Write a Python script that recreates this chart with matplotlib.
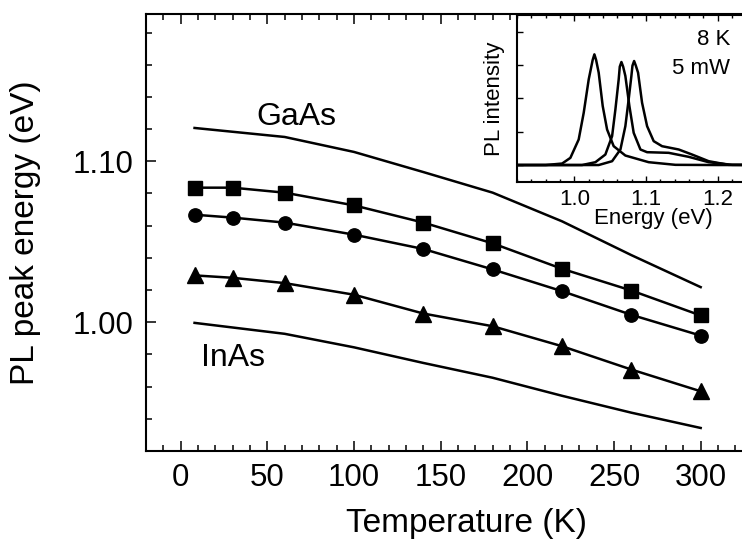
import matplotlib
matplotlib.use("Agg")
import matplotlib.pyplot as plt
from matplotlib.ticker import MultipleLocator, FormatStrFormatter, FuncFormatter

plt.rcParams['font.family'] = ['Liberation Sans', 'DejaVu Sans']

# PL peak energy versus temperature for the three dot samples
temperature = [8, 30, 60, 100, 140, 180, 220, 260, 300]
peak_square = [1.0836, 1.0836, 1.0805, 1.0726, 1.0619, 1.0490, 1.0332, 1.0197, 1.0042]
peak_circle = [1.0668, 1.0650, 1.0619, 1.0544, 1.0455, 1.0328, 1.0193, 1.0046, 0.9917]
peak_triangle = [1.0291, 1.0276, 1.0243, 1.0171, 1.0054, 0.9975, 0.9851, 0.9706, 0.9571]

# Bulk band gaps (reference curves)
temp_bulk = [8, 60, 100, 140, 180, 220, 260, 300]
gap_gaas = [1.1207, 1.1151, 1.1058, 1.0933, 1.0805, 1.0627, 1.0417, 1.0218]
gap_inas = [0.9996, 0.9928, 0.9844, 0.9747, 0.9655, 0.9543, 0.9438, 0.9343]

# 8 K spectra (inset)
spec_tri_e = [0.92, 0.96, 0.9829, 0.9944, 1.006, 1.013, 1.020, 1.0255, 1.0279, 1.0303,
              1.0339, 1.0395, 1.0456, 1.0548, 1.0711, 1.1036, 1.1409, 1.20, 1.30]
spec_tri_i = [0.0, 0.0, 0.045, 0.215, 0.766, 1.566, 2.57, 3.15, 3.32, 3.15,
              2.77, 1.77, 1.066, 0.565, 0.285, 0.085, 0.006, 0.0, 0.0]
spec_cir_e = [0.92, 1.0107, 1.0293, 1.0432, 1.0526, 1.0572, 1.0618, 1.0633, 1.0656, 1.0680,
              1.0711, 1.0767, 1.0827, 1.0921, 1.1014, 1.1315, 1.1594, 1.1873, 1.22, 1.30]
spec_cir_i = [0.0, 0.0, 0.085, 0.315, 0.866, 1.667, 2.57, 2.95, 3.09, 2.95,
              2.67, 1.77, 0.966, 0.466, 0.385, 0.366, 0.246, 0.085, 0.006, 0.0]
spec_sq_e = [0.92, 1.0339, 1.0526, 1.0642, 1.0711, 1.0757, 1.0795, 1.0810, 1.0833, 1.0857,
             1.0888, 1.0944, 1.1014, 1.1106, 1.1223, 1.1455, 1.1641, 1.1873, 1.2152, 1.30]
spec_sq_i = [0.0, 0.0, 0.115, 0.466, 1.166, 1.967, 2.67, 2.98, 3.12, 2.98,
             2.77, 1.867, 1.166, 0.716, 0.565, 0.466, 0.315, 0.115, 0.006, 0.0]

fig = plt.figure(figsize=(7.42, 5.45), dpi=100)
ax = fig.add_axes([0.1968, 0.1725, 0.8643, 0.8018])

lw = 1.8
ax.plot(temp_bulk, gap_gaas, color='black', lw=lw)
ax.plot(temp_bulk, gap_inas, color='black', lw=lw)
ax.plot(temperature, peak_square, '-s', color='black', lw=lw, ms=9.6)
ax.plot(temperature, peak_circle, '-o', color='black', lw=lw, ms=9.6)
ax.plot(temperature, peak_triangle, '-^', color='black', lw=lw, ms=11)

ax.text(66.6, 1.1276, 'GaAs', fontsize=23, ha='center', va='center')
ax.text(30.3, 0.978, 'InAs', fontsize=23, ha='center', va='center')

ax.set_xlim(-20, 350)
ax.set_ylim(0.92, 1.1915)
ax.xaxis.set_major_locator(MultipleLocator(50))
ax.xaxis.set_minor_locator(MultipleLocator(10))
ax.xaxis.set_major_formatter(FuncFormatter(lambda v, p: f'{v:.0f}' if v <= 300 else ''))
ax.yaxis.set_major_locator(MultipleLocator(0.1))
ax.yaxis.set_minor_locator(MultipleLocator(0.02))
ax.yaxis.set_major_formatter(FormatStrFormatter('%.2f'))
ax.tick_params(which='both', direction='in', top=True, right=True, width=1.1)
ax.tick_params(which='major', length=7.5, labelsize=22.5, pad=9)
ax.tick_params(which='minor', length=4.3)
for s in ax.spines.values():
    s.set_linewidth(1.5)

ax.set_xlabel('Temperature (K)', fontsize=24, va='center')
ax.xaxis.set_label_coords(0.5, -0.1648)
ax.set_ylabel('PL peak energy (eV)', fontsize=24, va='center')
ax.yaxis.set_label_coords(-0.188, 0.5)

# inset: PL spectra at 8 K
axin = fig.add_axes([0.6968, 0.6666, 0.3672, 0.3059])
axin.set_facecolor('white')
axin.plot(spec_tri_e, spec_tri_i, color='black', lw=1.8, solid_joinstyle='round')
axin.plot(spec_cir_e, spec_cir_i, color='black', lw=1.8, solid_joinstyle='round')
axin.plot(spec_sq_e, spec_sq_i, color='black', lw=1.8, solid_joinstyle='round')
axin.set_xlim(0.92, 1.30)
axin.set_ylim(-0.5, 4.5)
axin.xaxis.set_major_locator(MultipleLocator(0.1))
axin.xaxis.set_minor_locator(MultipleLocator(0.02))
axin.xaxis.set_major_formatter(FuncFormatter(lambda v, p: f'{v:.1f}' if v < 1.25 else ''))
axin.yaxis.set_major_locator(MultipleLocator(1))
axin.set_yticklabels([])
axin.tick_params(which='both', direction='in', top=True, right=True, width=1.0)
axin.tick_params(which='major', length=4, labelsize=16, pad=5)
axin.tick_params(which='minor', length=2)
for s in axin.spines.values():
    s.set_linewidth(1.5)
axin.set_xlabel('Energy (eV)', fontsize=16, labelpad=-1)
axin.set_ylabel('PL intensity', fontsize=16, labelpad=4)
axin.text(1.217, 3.77, '8 K', fontsize=16, ha='right', va='center')
axin.text(1.217, 2.90, '5 mW', fontsize=16, ha='right', va='center')

fig.savefig('out.png', dpi=100)
